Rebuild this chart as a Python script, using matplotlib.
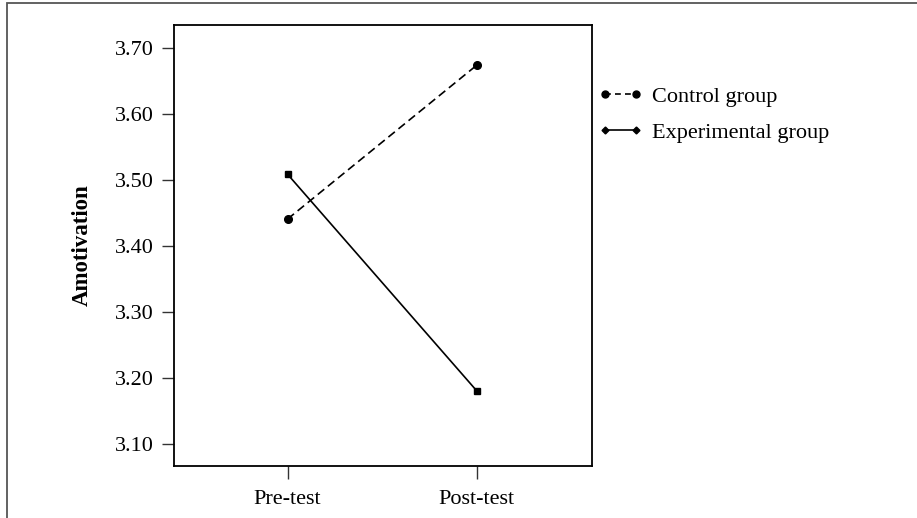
import matplotlib
matplotlib.use("Agg")
import matplotlib.pyplot as plt
from matplotlib.lines import Line2D
from matplotlib.patches import Rectangle

plt.rcParams["font.family"] = ["Liberation Serif", "DejaVu Serif"]

phases = ["Pre-test", "Post-test"]
control = [3.441, 3.674]
experimental = [3.509, 3.181]
yticks = [3.10, 3.20, 3.30, 3.40, 3.50, 3.60, 3.70]

fig = plt.figure(figsize=(9.17, 5.18), dpi=100)
ax = fig.add_axes([0.1898, 0.1004, 0.4558, 0.8513])

x = list(range(len(phases)))
ax.plot(x, control, color="black", lw=1.2, ls=(0, (5, 2.8)),
        marker="o", ms=5.5)
ax.plot(x, experimental, color="black", lw=1.2, ls="-",
        marker="s", ms=4)

ax.set_xlim(-0.6, 1.61)
ax.set_ylim(3.067, 3.735)
ax.set_xticks(x)
ax.set_xticklabels(phases)
ax.set_yticks(yticks)
ax.set_yticklabels([f"{v:.2f}" for v in yticks])
ax.tick_params(axis="both", labelsize=16, length=9, width=1, color="#333333", pad=5.5)
ax.tick_params(axis="x", pad=8)
for s in ax.spines.values():
    s.set_linewidth(1.3)
ax.set_ylabel("Amotivation", fontsize=16.5, fontweight="bold", labelpad=16)

handles = [
    Line2D([], [], color="black", lw=1.2, ls=(0, (3.5, 2.5)), marker="o", ms=5),
    Line2D([], [], color="black", lw=1.2, ls="-", marker="D", ms=3.5),
]
fig.legend(handles, ["Control group", "Experimental group"], loc="upper left",
           bbox_to_anchor=(0.631, 0.872), frameon=False, fontsize=16,
           numpoints=2, handlelength=2.0, handletextpad=0.4, labelspacing=0.7)

# outer frame of the page
fig.patches.append(Rectangle((7 / 917, -0.1), 1.2, 1.1 - 3.5 / 518,
                             transform=fig.transFigure, fill=False,
                             edgecolor="#555555", lw=1.3))

fig.savefig("out.png", dpi=100)
